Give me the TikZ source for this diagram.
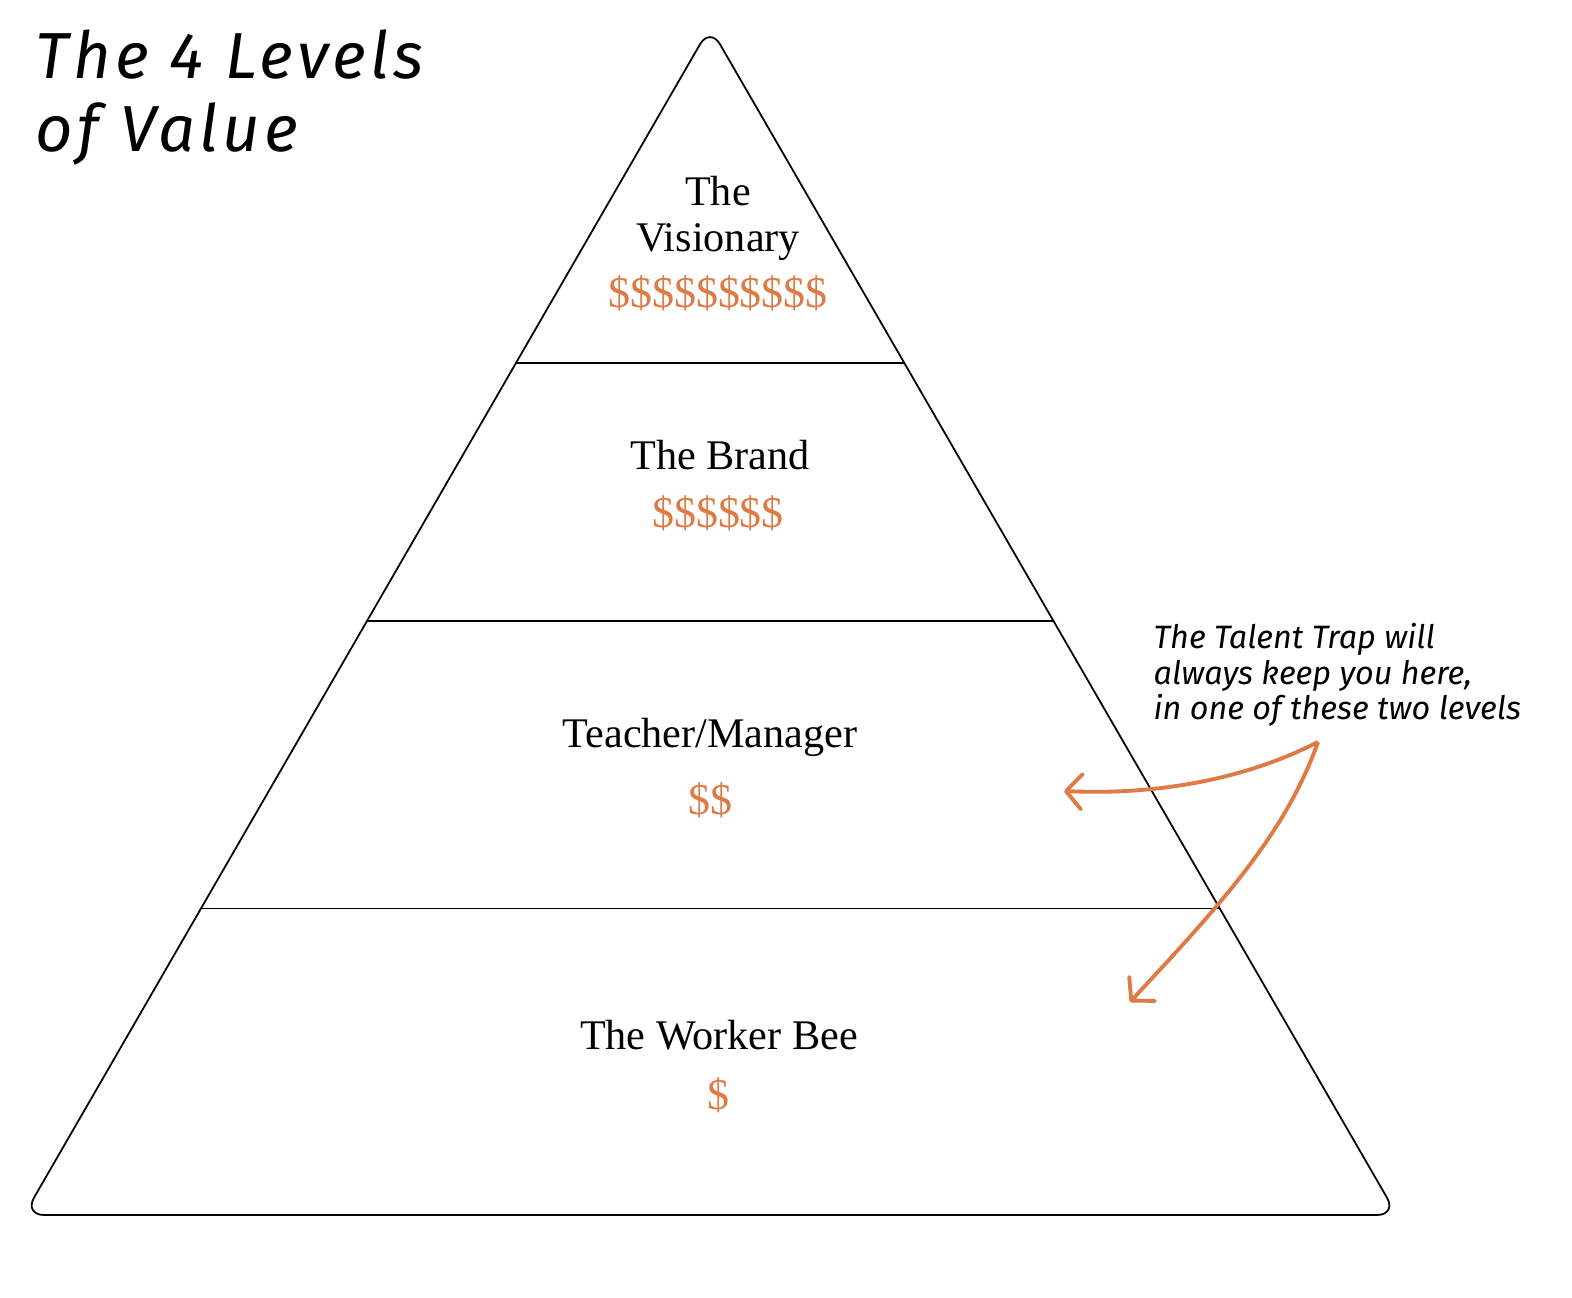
\documentclass[tikz,border=0pt]{standalone}
\usepackage{fontspec}
\setmainfont{Liberation Serif}
\newfontfamily\handfont{Fira Sans}
\newfontfamily\titlefont{Fira Sans}[LetterSpace=6.5]
\usetikzlibrary{arrows.meta,calc}
\definecolor{cashorange}{HTML}{E07A45}

\begin{document}
\begin{tikzpicture}[
                        x=0.01cm, y=-0.01cm,
                        >={Straight Barb[length=4.5pt,width=10pt,round]},
                        level/.style={font=\fontsize{12}{13.3}\selectfont, align=center},
                        cash/.style={text=cashorange, font=\fontsize{12.5}{14}\selectfont, anchor=base},
                        hand/.style={font=\handfont\itshape, align=left, anchor=base west, inner sep=0pt},
                        trap/.style={draw=cashorange, line width=1.1pt, ->}
                    ]
                    \useasboundingbox (0,0) rectangle (1572,1298);

                    % Pyramid
                    \coordinate (apex) at (710,27);
                    \coordinate (baseL) at (24,1215);
                    \coordinate (baseR) at (1397,1215);
                    \draw [line width=0.5pt, rounded corners=0.2cm] (710,1215) -- (baseR) -- (apex) -- (baseL) -- cycle;
                    \foreach \t in {0.283,0.5,0.742}
                        \draw [line width=0.5pt] ($(apex)!\t!(baseL)$) -- ($(apex)!\t!(baseR)$);

                    % Levels
                    \node [level] (visionary) at (718,218.5) {The\\Visionary};
                    \node [cash] (visionarycash) at (718,308) {\$\$\$\$\$\$\$\$\$\$};
                    \node [level,anchor=base] (brand) at (720,470) {The Brand};
                    \node [cash] (brandcash) at (718,528) {\$\$\$\$\$\$};
                    \node [level,anchor=base] (teacher) at (710,748) {Teacher/Manager};
                    \node [cash] (teachercash) at (710,815) {\$\$};
                    \node [level,anchor=base] (worker) at (719,1050) {The Worker Bee};
                    \node [cash] (workercash) at (718,1110) {\$};

                    % Notes (base = last line)
                    \node [hand, font=\titlefont\itshape\fontsize{18.5}{21}\selectfont] (title) at (35,152) {The 4 Levels\\of Value};
                    \node [hand, font=\handfont\itshape\fontsize{9.2}{10.2}\selectfont] (trapnote) at (1153,720) {The Talent Trap will\\always keep you here,\\in one of these two levels};

                    % Connections
                    \coordinate (fork) at (1318,742);
                    \coordinate (upper) at (1064,791);
                    \coordinate (lower) at (1130,1002);
                    \draw [trap] (fork) .. controls (1240,782) and (1150,795) .. (upper);
                    \draw [trap] (fork) .. controls (1285,835) and (1220,905) .. (lower);
                \end{tikzpicture}
\end{document}
